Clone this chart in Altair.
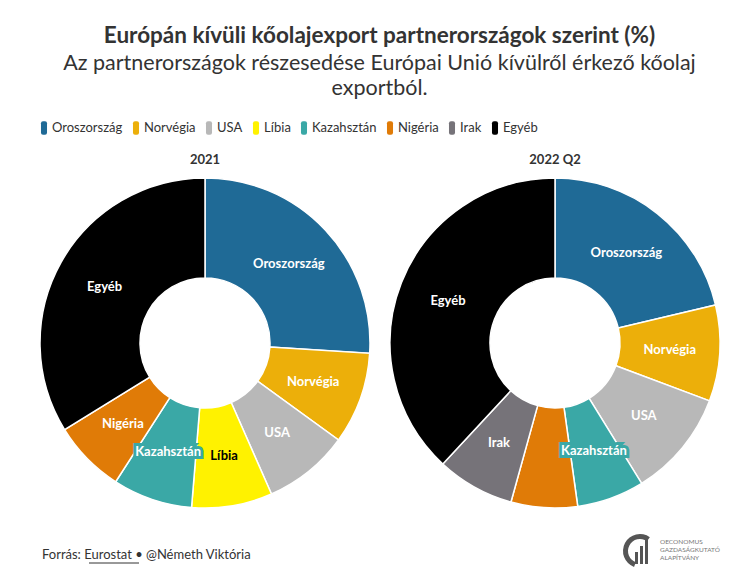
import altair as alt
import pandas as pd

# ---------------- data ----------------
periods = ["2021", "2022 Q2"]

countries_2021 = ["Oroszország", "Norvégia", "USA", "Líbia", "Kazahsztán", "Nigéria", "Egyéb"]
values_2021 = [26.0, 9.0, 8.4, 7.9, 7.8, 7.1, 33.8]

countries_2022 = ["Oroszország", "Norvégia", "USA", "Kazahsztán", "Nigéria", "Irak", "Egyéb"]
values_2022 = [21.3, 9.4, 10.5, 6.6, 6.5, 7.6, 38.1]

legend_countries = ["Oroszország", "Norvégia", "USA", "Líbia", "Kazahsztán", "Nigéria", "Irak", "Egyéb"]
legend_colors = ["#1f6a96", "#ecaf0a", "#b8b8b8", "#fff200", "#3aa8a6", "#e07b07", "#767379", "#000000"]

title_text = "Európán kívüli kőolajexport partnerországok szerint (%)"
subtitle_lines = ["Az partnerországok részesedése Európai Unió kívülről érkező kőolaj", "exportból."]
footer_text = "Forrás: Eurostat • @Németh Viktória"
logo_lines = ["OECONOMUS", "GAZDASÁGKUTATÓ", "ALAPÍTVÁNY"]

rows = []
for p, cs, vs in [(periods[0], countries_2021, values_2021), (periods[1], countries_2022, values_2022)]:
    for i, (c, v) in enumerate(zip(cs, vs)):
        rows.append({"period": p, "country": c, "value": v, "order": i})
df = pd.DataFrame(rows)

FONT = "Lato"
W, H = 733, 432
CY = 195
CENTERS = {periods[0]: 197, periods[1]: 547}

swatch = ("M-0.45,-0.7 Q-0.45,-1 -0.15,-1 L0.15,-1 Q0.45,-1 0.45,-0.7 "
          "L0.45,0.7 Q0.45,1 0.15,1 L-0.15,1 Q-0.45,1 -0.45,0.7 Z")

color_enc = alt.Color(
    "country:N",
    scale=alt.Scale(domain=legend_countries, range=legend_colors),
    legend=alt.Legend(
        title=None, orient="none", direction="horizontal", legendX=29, legendY=-27,
        symbolType=swatch, symbolSize=180, symbolStrokeWidth=0, labelFont=FONT,
        labelFontSize=13, labelColor="#333333", labelOffset=1, columnPadding=6,
        values=legend_countries,
    ),
)

layers = []
for p in periods:
    cx = CENTERS[p]
    base = alt.Chart(df).transform_filter(alt.datum.period == p)
    arc = base.mark_arc(innerRadius=65, outerRadius=165, stroke="white", strokeWidth=1.5).encode(
        theta=alt.Theta("value:Q", stack=True),
        color=color_enc,
        order=alt.Order("order:Q"),
        x=alt.value(cx),
        y=alt.value(CY),
    )
    lab = base.transform_calculate(
        label="(datum.period == '2022 Q2' && datum.country == 'Nigéria') ? '' : datum.country"
    )
    halo = lab.mark_text(radius=115, font=FONT, fontSize=13, fontWeight="bold",
                         stroke="#3aa8a6", strokeWidth=6, strokeJoin="miter").encode(
        theta=alt.Theta("value:Q", stack=True),
        order=alt.Order("order:Q"),
        text="label:N",
        opacity=alt.condition(alt.datum.country == "Kazahsztán", alt.value(1), alt.value(0)),
        x=alt.value(cx),
        y=alt.value(CY),
    )
    txt = lab.mark_text(radius=115, font=FONT, fontSize=13, fontWeight="bold").encode(
        theta=alt.Theta("value:Q", stack=True),
        order=alt.Order("order:Q"),
        text="label:N",
        color=alt.condition(alt.datum.country == "Líbia", alt.value("#000000"), alt.value("#ffffff")),
        x=alt.value(cx),
        y=alt.value(CY),
    )
    ptitle = alt.Chart(pd.DataFrame({"t": [p]})).mark_text(
        font=FONT, fontSize=13, fontWeight="bold", color="#333333"
    ).encode(text="t:N", x=alt.value(cx), y=alt.value(12))
    layers += [arc, halo, txt, ptitle]

footer = alt.Chart(pd.DataFrame({"t": [footer_text]})).mark_text(
    font=FONT, fontSize=13, color="#333333", align="left", baseline="middle"
).encode(text="t:N", x=alt.value(34), y=alt.value(407))

underline = alt.Chart(pd.DataFrame({"a": [0]})).mark_rule(color="#333333", strokeWidth=1).encode(
    x=alt.value(81), x2=alt.value(131), y=alt.value(415)
)

logo_arc = alt.Chart(pd.DataFrame({"a": [0]})).mark_arc(color="#555555").encode(
    x=alt.value(632), y=alt.value(403), theta=alt.value(3.5), theta2=alt.value(6.9),
    radius=alt.value(17), radius2=alt.value(12)
)
logo_bars = alt.Chart(pd.DataFrame({"x": [627, 632, 637], "y": [404, 398, 392]})).mark_rect(color="#555555").encode(
    x=alt.X("x:Q", scale=None), x2=alt.X2("x2:Q"), y=alt.Y("y:Q", scale=None), y2=alt.value(416)
).transform_calculate(x2="datum.x + 3")
logo_text = alt.Chart(pd.DataFrame({"t": logo_lines, "y": [394, 402, 410]})).mark_text(
    font=FONT, fontSize=6.5, color="#777777", align="left", baseline="middle"
).encode(text="t:N", x=alt.value(652), y=alt.Y("y:Q", scale=None))

chart = alt.layer(*layers, footer, underline, logo_arc, logo_bars, logo_text).resolve_scale(
    theta="independent"
).properties(
    width=W, height=H,
    autosize=alt.AutoSizeParams(type="none"),
    padding={"top": 140, "left": 0, "right": 0, "bottom": 0},
    title=alt.TitleParams(
        text=title_text, subtitle=subtitle_lines, anchor="middle", dx=5,
        font=FONT, fontSize=22.5, fontWeight="bold", color="#333333",
        subtitleFont=FONT, subtitleFontSize=21.5, subtitleColor="#333333",
        subtitleLineHeight=25, subtitlePadding=5, offset=22,
    ),
).configure_view(stroke=None)

chart.save("out.html", embed_options={"renderer": "svg", "actions": False})
